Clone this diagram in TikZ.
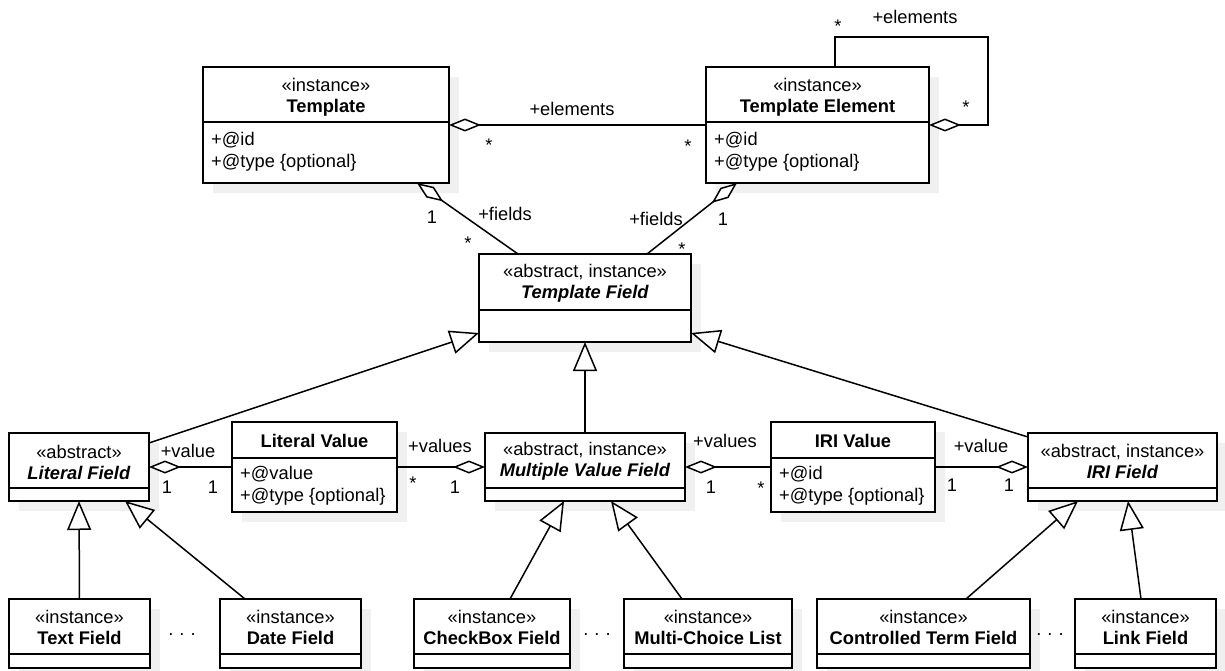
\documentclass[tikz,border=0pt]{standalone}
\usepackage{fontspec}
\setmainfont{Liberation Sans}
\usetikzlibrary{arrows.meta,shadows,calc}
\tikzset{
 cls/.style={draw, line width=2pt, fill=white, inner sep=0pt, outer sep=0pt, anchor=north west,
   drop shadow={shadow xshift=10pt, shadow yshift=-10pt, fill=black!6, opacity=1}},
 conn/.style={line width=1.5pt},
 aggr/.style={conn, {Diamond[length=32pt,width=13pt,fill=white]}-},
 aggrend/.style={conn, -{Diamond[length=32pt,width=13pt,fill=white]}},
 gen/.style={conn, -{Triangle[length=29pt,width=24pt,fill=white]}},
 txt/.style={font=\fontsize{18.3}{21}\selectfont, inner sep=0pt, align=center},
 attr/.style={font=\fontsize{18.3}{22}\selectfont, inner sep=0pt, align=left, anchor=west},
 lbl/.style={font=\fontsize{18.3}{21}\selectfont, inner sep=0pt},
}
\newcommand\umlbox[6]{%
  \node[cls, minimum width={(#4-#2)*1pt}, minimum height={(#6-#3)*1pt}] (#1) at (#2,#3) {};
  \draw[line width=2pt] (#2,#5) -- (#4,#5);}
\begin{document}
\begin{tikzpicture}[x=1pt,y=-1pt]
\useasboundingbox (0,0) rectangle (1225,671);
% boxes
\umlbox{tpl}{203}{67}{449}{122}{183}
\umlbox{te}{706}{67}{929}{122}{183}
\umlbox{tf}{479}{254}{691}{310}{342}
\umlbox{lf}{9}{433}{149}{488}{501}
\umlbox{lv}{232}{422}{397}{458}{512}
\umlbox{mvf}{485}{433}{685}{488}{501}
\umlbox{iv}{771}{422}{935}{458}{512}
\umlbox{irf}{1028}{433}{1217}{488}{501}
\umlbox{txf}{9}{599}{150}{654}{668}
\umlbox{dtf}{220}{599}{361}{654}{668}
\umlbox{cbf}{414}{599}{570}{654}{668}
\umlbox{mcl}{624}{599}{792}{654}{668}
\umlbox{ctf}{817}{599}{1030}{654}{668}
\umlbox{lnk}{1075}{599}{1216}{654}{668}
% headers
\node[txt] (tplh) at (326,97) {«instance»\\\textbf{Template}};
\node[txt] (teh) at (817.5,97) {«instance»\\\textbf{Template Element}};
\node[txt] (tfh) at (585,283) {«abstract, instance»\\\textbf{\textit{Template Field}}};
\node[txt] (lfh) at (79,462) {«abstract»\\\textbf{\textit{Literal Field}}};
\node[txt] (lvh) at (314.5,441) {\textbf{Literal Value}};
\node[txt] (mvfh) at (585,461) {«abstract, instance»\\\textbf{\textit{Multiple Value Field}}};
\node[txt] (ivh) at (853,441) {\textbf{IRI Value}};
\node[txt] (irfh) at (1122.5,461.5) {«abstract, instance»\\\textbf{\textit{IRI Field}}};
\node[txt] (txfh) at (79.5,627.5) {«instance»\\\textbf{Text Field}};
\node[txt] (dtfh) at (290.5,627.5) {«instance»\\\textbf{Date Field}};
\node[txt] (cbfh) at (492,627.5) {«instance»\\\textbf{CheckBox Field}};
\node[txt] (mclh) at (708,627.5) {«instance»\\\textbf{Multi-Choice List}};
\node[txt] (ctfh) at (923.5,627.5) {«instance»\\\textbf{Controlled Term Field}};
\node[txt] (lnkh) at (1145.5,627.5) {«instance»\\\textbf{Link Field}};
% attributes
\node[attr] (tpla) at (211,151.5) {+@id\\+@type \{optional\}};
\node[attr] (tea) at (714,151.5) {+@id\\+@type \{optional\}};
\node[attr] (lva) at (240,486) {+@value\\+@type \{optional\}};
\node[attr] (iva) at (779,486) {+@id\\+@type \{optional\}};
% connectors
\coordinate (loopc) at (988,37);
\draw[aggr] (tpl.east) -- (te.west);
\draw[aggr] (te.east) -| (loopc) -| ([xshift=17.5pt]te.north);
\draw[aggr] ([xshift=91pt]tpl.south) -- ([xshift=-67pt]tf.north);
\draw[aggr] ([xshift=-80.5pt]te.south) -- ([xshift=62pt]tf.north);
\draw[gen] ([yshift=24pt]lf.east) -- ([yshift=-35pt]tf.west);
\draw[gen] (mvf.north) -- (tf.south);
\draw[gen] ([yshift=30pt]irf.west) -- ([yshift=-35pt]tf.east);
\draw[aggr] (lf.east) -- (lv.west);
\draw[aggrend] (lv.east) -- (mvf.west);
\draw[aggr] (mvf.east) -- (iv.west);
\draw[aggrend] (iv.east) -- (irf.west);
\draw[gen] (txf.north) -- (lf.south);
\draw[gen] ([xshift=-45.5pt]dtf.north) -- ([xshift=46pt]lf.south);
\draw[gen] ([xshift=18pt]cbf.north) -- ([xshift=-21pt]mvf.south);
\draw[gen] ([xshift=-26pt]mcl.north) -- ([xshift=26pt]mvf.south);
\draw[gen] ([xshift=42.5pt]ctf.north) -- ([xshift=-44.5pt]irf.south);
\draw[gen] ([xshift=-4.5pt]lnk.north) -- ([xshift=5.5pt]irf.south);
% labels
\node[lbl] (l1) at (572,109) {+elements};
\node[lbl] (l2) at (489,145) {*};
\node[lbl] (l3) at (688,146) {*};
\node[lbl] (l4) at (838,26) {*};
\node[lbl] (l5) at (915,17) {+elements};
\node[lbl] (l6) at (966,107) {*};
\node[lbl] (l7) at (432,217) {1};
\node[lbl] (l8) at (505,214) {+fields};
\node[lbl] (l9) at (468,243) {*};
\node[lbl] (l10) at (656,219) {+fields};
\node[lbl] (l11) at (723,219) {1};
\node[lbl] (l12) at (682,249) {*};
\node[lbl] (l13) at (188,451) {+value};
\node[lbl] (l14) at (167,487) {1};
\node[lbl] (l15) at (213,487) {1};
\node[lbl] (l16) at (440,446) {+values};
\node[lbl] (l17) at (413,483) {*};
\node[lbl] (l18) at (455,487) {1};
\node[lbl] (l19) at (725,441) {+values};
\node[lbl] (l20) at (711,487) {1};
\node[lbl] (l21) at (761,488) {*};
\node[lbl] (l22) at (981,446) {+value};
\node[lbl] (l23) at (952,485) {1};
\node[lbl] (l24) at (1009,485) {1};
\node[lbl] (d1) at (182,637) {·\ ·\ ·};
\node[lbl] (d2) at (597,637) {·\ ·\ ·};
\node[lbl] (d3) at (1050,637) {·\ ·\ ·};
\end{tikzpicture}
\end{document}
